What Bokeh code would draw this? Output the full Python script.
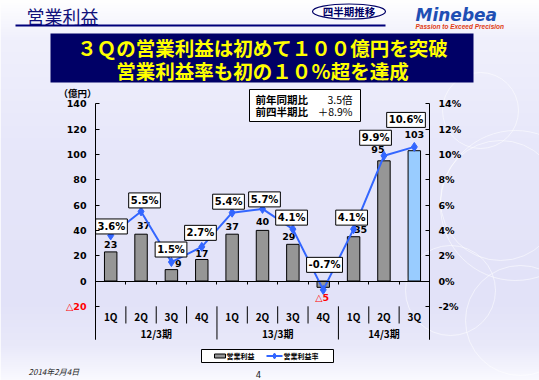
import numpy as np
from bokeh.plotting import figure
from bokeh.models import Range1d, LinearAxis, FixedTicker, PrintfTickFormatter, ColumnDataSource
from bokeh.core.properties import value
from bokeh.embed import file_html
from bokeh.resources import INLINE

# ---------------- data ----------------
quarters = ["1Q", "2Q", "3Q", "4Q", "1Q", "2Q", "3Q", "4Q", "1Q", "2Q", "3Q"]
fiscal_years = ["12/3期", "13/3期", "14/3期"]
fiscal_year_sizes = [4, 4, 3]
operating_income = [23, 37, 9, 17, 37, 40, 29, -5, 35, 95, 103]          # 億円
operating_margin = [3.6, 5.5, 1.5, 2.7, 5.4, 5.7, 4.1, -0.7, 4.1, 9.9, 10.6]  # %
income_ticks = [-20, 0, 20, 40, 60, 80, 100, 120, 140]
margin_ticks = [-2, 0, 2, 4, 6, 8, 10, 12, 14]
series_names = ["営業利益", "営業利益率"]
title_text = "営業利益"
badge_text = "四半期推移"
headline = ["３Ｑの営業利益は初めて１００億円を突破", "営業利益率も初の１０％超を達成"]
unit_text = "（億円）"
compare_labels = ["前年同期比", "前四半期比"]
compare_values = ["3.5倍", "＋8.9%"]
date_text = "2014年2月4日"
page_text = "4"

# ---------------- styles ----------------
bar_colors = ["#969696"] * 10 + ["#99ccff"]
income_label_dx = [0, 2.5, 7, 0, 0, 0, -4, -1, 7, -6, 0]
income_label_dy = [-7.5, -8.5, -6, -6, -7.5, -9, -8, 10, -7, -11, -16]
margin_label_dx = [0.8, 3.5, -0.4, -1.3, -3.6, 2, -1.3, 1.3, -2, -8.4, -8.3]
margin_label_dy = [-9, -11, -12.5, -14, -11, -9.5, -11.5, -25, -11.5, -18, -27]

W, H = 539, 380          # figure fills the window
OFF = 0
CW = 334 / 11            # px per category
UY = 1.265               # px per 億円
X0P, Y0P = 95, 280.5     # page px of category 0 edge / value 0


def X(px):
    return (px - X0P) / CW


def Y(py):
    return (Y0P - py) / UY


x_range = Range1d(X(OFF), X(OFF + W))
y_range = Range1d(Y(OFF + H), Y(OFF))
pct_range = Range1d(y_range.start / 10, y_range.end / 10)

p = figure(width=W, height=H, x_range=x_range, y_range=y_range,
           x_axis_type=None, y_axis_type=None, output_backend="svg",
           toolbar_location=None, min_border=0, outline_line_color=None,
           extra_y_ranges={"pct": pct_range})

# background gradient
stops_y = [0, 40, 150, 300, 345, 380]
stops_c = [(255, 255, 255), (240, 240, 252), (231, 231, 250), (226, 226, 248), (233, 233, 250), (250, 250, 255)]
rows = np.arange(H)
page_y = OFF + H - 0.5 - rows
img = np.zeros((H, 1), dtype=np.uint32)
view = img.view(dtype=np.uint8).reshape((H, 1, 4))
for ch in range(3):
    view[:, 0, ch] = np.interp(page_y, stops_y, [c[ch] for c in stops_c]).astype(np.uint8)
view[:, 0, 3] = 255
p.image_rgba(image=[img], x=x_range.start, y=y_range.start,
             dw=x_range.end - x_range.start, dh=y_range.end - y_range.start)

# decorative faint circles on the right
for cx, cy, r in [(480, 110, 38), (515, 205, 75), (500, 200, 60), (450, 290, 45), (520, 320, 55)]:
    p.ellipse(x=X(cx), y=Y(cy), width=2 * r / CW, height=2 * r / UY,
              fill_color=None, line_color="white", line_alpha=0.55, line_width=1)

n = len(quarters)
xs = [i + 0.5 for i in range(n)]
bottom_val = Y(339)

# axes
x_axis = LinearAxis(fixed_location=0, bounds=(0, n),
                    ticker=FixedTicker(ticks=list(range(1, n))),
                    major_tick_in=0, major_tick_out=3, major_label_text_color=None,
                    minor_tick_line_color=None, axis_line_color="black")
p.add_layout(x_axis, "below")

left_axis = LinearAxis(fixed_location=0, bounds=(bottom_val, income_ticks[-1]),
                       ticker=FixedTicker(ticks=income_ticks),
                       major_label_overrides={income_ticks[0]: ""},
                       major_tick_in=4, major_tick_out=0, minor_tick_line_color=None,
                       major_label_standoff=9,
                       major_label_text_font="DejaVu Sans", major_label_text_font_style="bold",
                       major_label_text_font_size="9.5px", major_label_text_color="black")
p.add_layout(left_axis, "left")

right_axis = LinearAxis(y_range_name="pct", fixed_location=n,
                        bounds=(bottom_val / 10, margin_ticks[-1]),
                        ticker=FixedTicker(ticks=margin_ticks),
                        formatter=PrintfTickFormatter(format="%d%%"),
                        major_tick_in=4, major_tick_out=0, minor_tick_line_color=None,
                        major_label_standoff=9,
                        major_label_text_font="DejaVu Sans", major_label_text_font_style="bold",
                        major_label_text_font_size="9.5px", major_label_text_color="black")
p.add_layout(right_axis, "right")

# red negative tick label
p.text(x=[0], y=[income_ticks[0]], text=["△" + str(abs(income_ticks[0]))], x_offset=-9,
       text_align="right", text_baseline="middle", text_font=value("DejaVu Sans"),
       text_font_style="bold", text_font_size="9.5px", text_color="red")

# category labels and separators
p.text(x=xs, y=[Y(316)] * n, text=quarters, text_align="center", text_baseline="middle",
       text_font=value("Noto Sans CJK JP"), text_font_style="bold", text_font_size="10px",
       text_color="black")
starts = np.cumsum([0] + fiscal_year_sizes)
group_x = [starts[i] + fiscal_year_sizes[i] / 2 for i in range(len(fiscal_years))]
p.text(x=group_x, y=[Y(333)] * len(fiscal_years), text=fiscal_years, text_align="center",
       text_baseline="middle", text_font=value("Noto Sans CJK JP"), text_font_style="bold",
       text_font_size="10px", text_color="black")
short_sep = [i for i in range(1, n) if i not in starts]
long_sep = [int(s) for s in starts]
p.segment(x0=short_sep, y0=[income_ticks[0]] * len(short_sep), x1=short_sep,
          y1=[Y(323)] * len(short_sep), line_color="black", line_width=1)
p.segment(x0=long_sep, y0=[income_ticks[0]] * len(long_sep), x1=long_sep,
          y1=[bottom_val] * len(long_sep), line_color="black", line_width=1)

# bars
bar_src = ColumnDataSource(dict(
    x=xs, top=operating_income, color=bar_colors,
    label=[str(v) if v >= 0 else "△" + str(-v) for v in operating_income],
    label_color=["black" if v >= 0 else "red" for v in operating_income],
    dx=income_label_dx, dy=income_label_dy))
p.vbar(x="x", top="top", bottom=0, width=0.41, fill_color="color", line_color="black",
       line_width=1, source=bar_src)
p.text(x="x", y="top", text="label", x_offset="dx", y_offset="dy", text_color="label_color",
       text_align="center", text_baseline="middle", text_font=value("DejaVu Sans"),
       text_font_style="bold", text_font_size="9.5px", source=bar_src)

# margin line
line_src = ColumnDataSource(dict(
    x=xs, y=operating_margin, label=[f"{v:.1f}%" for v in operating_margin],
    dx=margin_label_dx, dy=margin_label_dy))
p.line(x="x", y="y", y_range_name="pct", line_color="#3366ff", line_width=2, source=line_src)
p.scatter(x="x", y="y", y_range_name="pct", marker="diamond", size=9,
          fill_color="#3366ff", line_color="#3366ff", source=line_src)
p.text(x="x", y="y", y_range_name="pct", text="label", x_offset="dx", y_offset="dy",
       text_align="center", text_baseline="middle", text_font=value("DejaVu Sans"),
       text_font_style="bold", text_font_size="10px", text_color="black",
       background_fill_color="white", border_line_color="black", border_line_width=1,
       padding=2, source=line_src)

# ---------------- header ----------------
navy = "#000066"
p.text(x=[X(26)], y=[Y(15.5)], text=[title_text], text_align="left", text_baseline="middle",
       text_font=value("Noto Sans CJK JP"), text_font_size="18px", text_color="#10107a")
p.segment(x0=[X(15)], y0=[Y(25)], x1=[X(385)], y1=[Y(25)], line_color="#00007a", line_width=2)
p.ellipse(x=[X(348.5)], y=[Y(11)], width=73 / CW, height=15 / UY, fill_color="white",
          fill_alpha=0.6, line_color=navy, line_width=1.2)
p.text(x=[X(348.5)], y=[Y(11)], text=[badge_text], text_align="center", text_baseline="middle",
       text_font=value("Noto Sans CJK JP"), text_font_style="bold", text_font_size="10.5px",
       text_color=navy)
p.text(x=[X(415)], y=[Y(14.5)], text=["Minebea"], text_align="left", text_baseline="middle",
       text_font=value("DejaVu Sans"), text_font_style="bold italic", text_font_size="17px",
       text_color="#1f4fb4")
p.text(x=[X(415)], y=[Y(26)], text=["Passion to Exceed Precision"], text_align="left",
       text_baseline="middle", text_font=value("Liberation Sans"), text_font_style="bold italic",
       text_font_size="6.5px", text_color="#e03c14")

p.quad(left=[X(50)], right=[X(473)], top=[Y(33)], bottom=[Y(82)], fill_color=navy, line_color=None)
p.text(x=[X(262), X(262)], y=[Y(46.5), Y(70)], text=headline, text_align="center",
       text_baseline="middle", text_font=value("Noto Sans CJK JP"), text_font_style="bold",
       text_font_size="19.5px", text_color="#ffff00")

p.text(x=[X(77)], y=[Y(92)], text=[unit_text], text_align="center", text_baseline="middle",
       text_font=value("Noto Sans CJK JP"), text_font_style="bold", text_font_size="9.5px",
       text_color="black")

p.quad(left=[X(249)], right=[X(360)], top=[Y(89)], bottom=[Y(121)], fill_color="white",
       line_color="black", line_width=1)
p.text(x=[X(255), X(255)], y=[Y(98.5), Y(111)], text=compare_labels, text_align="left",
       text_baseline="middle", text_font=value("Noto Sans CJK JP"), text_font_style="bold",
       text_font_size="10.5px", text_color="black")
p.text(x=[X(352), X(352)], y=[Y(98.5), Y(111)], text=compare_values, text_align="right",
       text_baseline="middle", text_font=value("Noto Sans CJK JP"), text_font_size="10.5px",
       text_color="black")

# ---------------- legend ----------------
p.quad(left=[X(201)], right=[X(333)], top=[Y(349)], bottom=[Y(362)], fill_color="white",
       line_color="black", line_width=1)
p.quad(left=[X(214)], right=[X(225)], top=[Y(353.5)], bottom=[Y(357.5)], fill_color="#969696",
       line_color="black", line_width=1)
p.segment(x0=[X(266)], y0=[Y(355.5)], x1=[X(282)], y1=[Y(355.5)], line_color="#3366ff", line_width=2)
p.scatter(x=[X(274)], y=[Y(355.5)], marker="diamond", size=6, fill_color="#3366ff", line_color="#3366ff")
p.text(x=[X(226), X(283)], y=[Y(355.5), Y(355.5)], text=series_names, text_align="left",
       text_baseline="middle", text_font=value("Noto Sans CJK JP"), text_font_style="bold",
       text_font_size="7px", text_color="black")

# ---------------- footer ----------------
p.text(x=[X(28)], y=[Y(371)], text=[date_text], text_align="left", text_baseline="middle",
       text_font=value("Noto Sans CJK JP"), text_font_style="italic", text_font_size="8px",
       text_color="#222222")
p.text(x=[X(258)], y=[Y(374)], text=[page_text], text_align="center", text_baseline="middle",
       text_font=value("DejaVu Sans"), text_font_size="8.5px", text_color="#222222")

open("out.html", "w").write(file_html(p, INLINE))
